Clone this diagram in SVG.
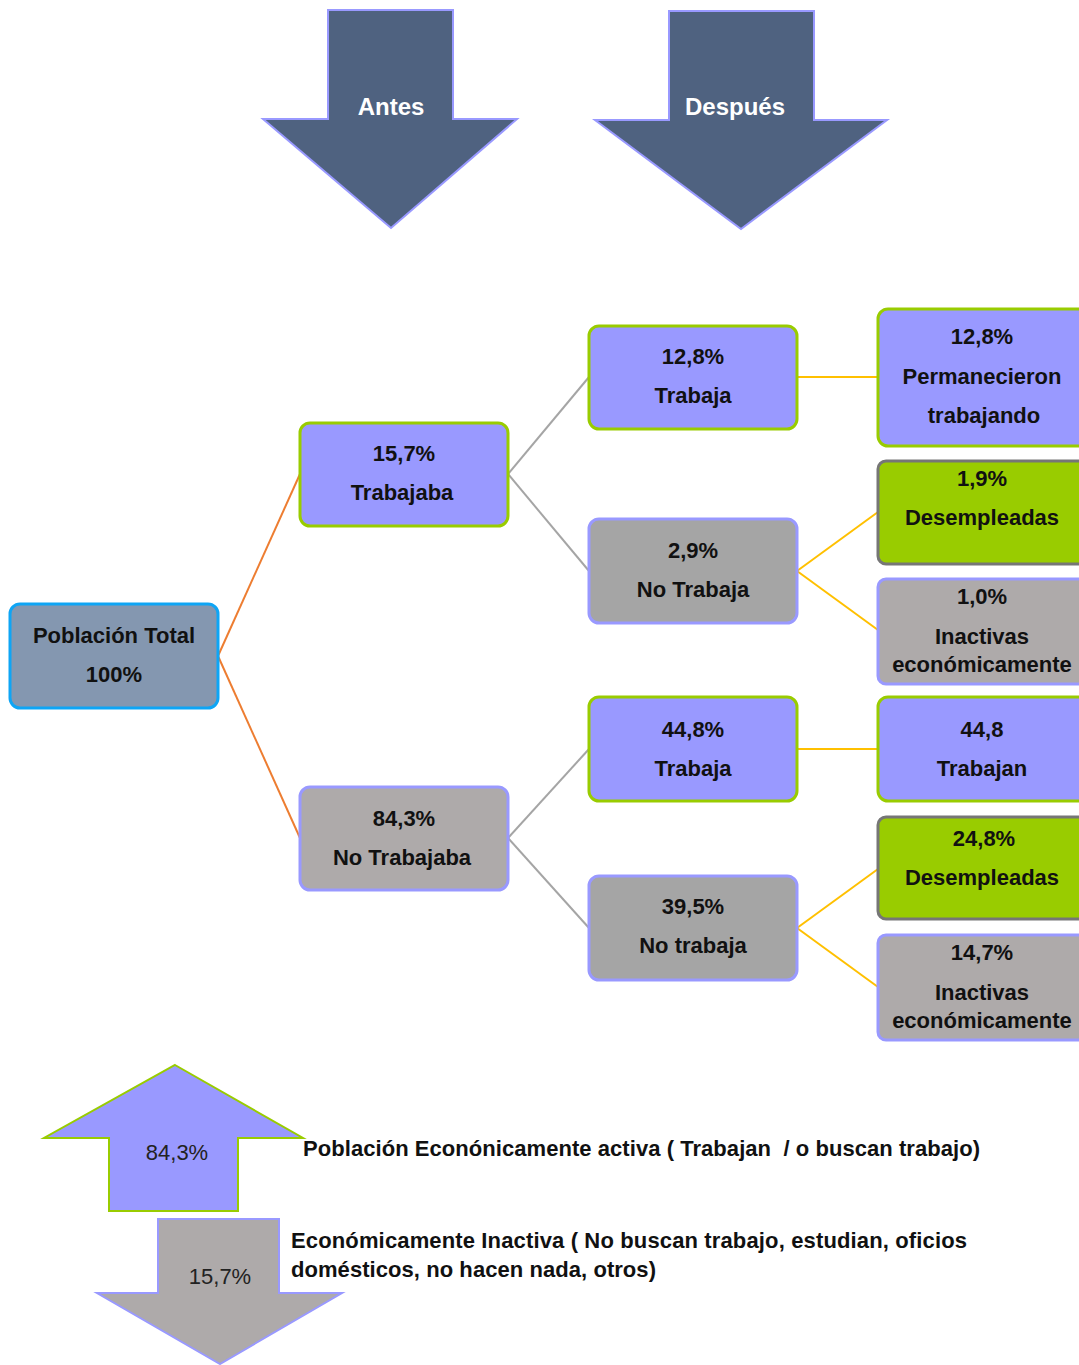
<svg xmlns="http://www.w3.org/2000/svg" width="1079" height="1365" viewBox="0 0 1079 1365">
<style>
text{font-family:"Liberation Sans",Arial,sans-serif;font-weight:bold;font-size:22px;fill:#111;text-anchor:middle}
.big{fill:#4f6280;stroke:#9999ff;stroke-width:2}
.wt{fill:#fff;font-size:24px}
.pg{fill:#9999ff;stroke:#99cc00;stroke-width:3}
.gp{fill:#aeaaaa;stroke:#9999ff;stroke-width:3}
.dg{fill:#a5a5a5;stroke:#9999ff;stroke-width:3}
.gr{fill:#99cc00;stroke:#767676;stroke-width:3}
.bl{fill:#8497b0;stroke:#0ea5f5;stroke-width:3}
.or{stroke:#ed7d31;stroke-width:2;fill:none}
.gy{stroke:#a5a5a5;stroke-width:2;fill:none}
.ye{stroke:#ffc000;stroke-width:2;fill:none}
.reg{font-weight:normal;fill:#222}
.lt{text-anchor:start}
</style>
<rect width="1079" height="1365" fill="#fff"/>
<g id="antes">
<polygon class="big" points="328,10 453,10 453,119 517,119 391,228 263,119 328,119"/>
<text class="wt" x="391" y="115">Antes</text>
</g>
<g id="despues">
<polygon class="big" points="669,11 814,11 814,120 887,120 741,229 595,120 669,120"/>
<text class="wt" x="735" y="115">Después</text>
</g>
<g id="connectors">
<line class="or" x1="218" y1="656" x2="300" y2="474"/>
<line class="or" x1="218" y1="656" x2="300" y2="838"/>
<line class="gy" x1="508" y1="474" x2="589" y2="377"/>
<line class="gy" x1="508" y1="474" x2="589" y2="571"/>
<line class="gy" x1="508" y1="838" x2="589" y2="749"/>
<line class="gy" x1="508" y1="838" x2="589" y2="928"/>
<line class="ye" x1="797" y1="377" x2="878" y2="377"/>
<line class="ye" x1="797" y1="571" x2="878" y2="512"/>
<line class="ye" x1="797" y1="571" x2="878" y2="630"/>
<line class="ye" x1="797" y1="749" x2="878" y2="749"/>
<line class="ye" x1="797" y1="928" x2="878" y2="869"/>
<line class="ye" x1="797" y1="928" x2="878" y2="987"/>
</g>
<g id="total">
<rect class="bl" x="10" y="604" width="208" height="104" rx="10"/>
<text x="114" y="643">Población Total</text>
<text x="114" y="682">100%</text>
</g>
<g id="trabajaba">
<rect class="pg" x="300" y="423" width="208" height="103" rx="10"/>
<text x="404" y="461">15,7%</text>
<text x="402" y="500">Trabajaba</text>
</g>
<g id="notrabajaba">
<rect class="gp" x="300" y="787" width="208" height="103" rx="10"/>
<text x="404" y="826">84,3%</text>
<text x="402" y="865">No Trabajaba</text>
</g>
<g id="trabaja1">
<rect class="pg" x="589" y="326" width="208" height="103" rx="10"/>
<text x="693" y="364">12,8%</text>
<text x="693" y="403">Trabaja</text>
</g>
<g id="notrabaja1">
<rect class="dg" x="589" y="519" width="208" height="104" rx="10"/>
<text x="693" y="558">2,9%</text>
<text x="693" y="597">No Trabaja</text>
</g>
<g id="trabaja2">
<rect class="pg" x="589" y="697" width="208" height="104" rx="10"/>
<text x="693" y="737">44,8%</text>
<text x="693" y="776">Trabaja</text>
</g>
<g id="notrabaja2">
<rect class="dg" x="589" y="876" width="208" height="104" rx="10"/>
<text x="693" y="914">39,5%</text>
<text x="693" y="953">No trabaja</text>
</g>
<g id="permanecieron">
<rect class="pg" x="878" y="309" width="212" height="137" rx="10"/>
<text x="982" y="344">12,8%</text>
<text x="982" y="384">Permanecieron</text>
<text x="984" y="423">trabajando</text>
</g>
<g id="desemp1">
<rect class="gr" x="878" y="461" width="212" height="103" rx="8"/>
<text x="982" y="486">1,9%</text>
<text x="982" y="525">Desempleadas</text>
</g>
<g id="inact1">
<rect class="gp" x="878" y="579" width="212" height="105" rx="8"/>
<text x="982" y="604">1,0%</text>
<text x="982" y="644">Inactivas</text>
<text x="982" y="672">económicamente</text>
</g>
<g id="trabajan">
<rect class="pg" x="878" y="697" width="212" height="104" rx="10"/>
<text x="982" y="737">44,8</text>
<text x="982" y="776">Trabajan</text>
</g>
<g id="desemp2">
<rect class="gr" x="878" y="817" width="212" height="102" rx="8"/>
<text x="984" y="846">24,8%</text>
<text x="982" y="885">Desempleadas</text>
</g>
<g id="inact2">
<rect class="gp" x="878" y="935" width="212" height="105" rx="8"/>
<text x="982" y="960">14,7%</text>
<text x="982" y="1000">Inactivas</text>
<text x="982" y="1028">económicamente</text>
</g>
<g id="activa">
<polygon points="175,1065 303,1138 238,1138 238,1211 109,1211 109,1138 44,1138" fill="#9999ff" stroke="#99cc00" stroke-width="2"/>
<text class="reg" x="177" y="1160">84,3%</text>
<text class="lt" x="303" y="1156" font-size="21" textLength="677">Población Econónicamente activa ( Trabajan &#160;/ o buscan trabajo)</text>
</g>
<g id="inactiva">
<polygon points="158,1219 279,1219 279,1293 342,1293 220,1364 97,1293 158,1293" fill="#aeaaaa" stroke="#9999ff" stroke-width="2"/>
<text class="reg" x="220" y="1284">15,7%</text>
<text class="lt" x="291" y="1248" font-size="21" textLength="676">Económicamente Inactiva ( No buscan trabajo, estudian, oficios</text>
<text class="lt" x="291" y="1277" font-size="21" textLength="365">domésticos, no hacen nada, otros)</text>
</g>
</svg>
